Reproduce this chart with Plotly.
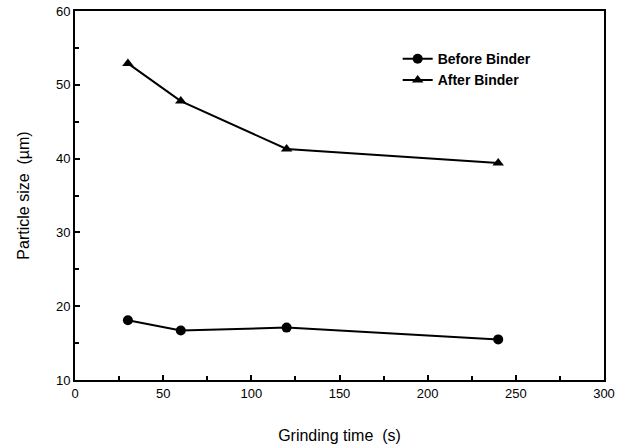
import plotly.graph_objects as go

time_s = [30, 60, 120, 240]
before_binder = [18.1, 16.7, 17.1, 15.5]
after_binder = [52.9, 47.8, 41.3, 39.4]

FONT = "Liberation Sans, Arial, sans-serif"

fig = go.Figure()
fig.add_trace(go.Scatter(
    x=time_s, y=before_binder, name="<b>Before Binder</b>",
    mode="lines+markers",
    line=dict(color="black", width=2),
    marker=dict(symbol="circle", size=10, color="black"),
))
fig.add_trace(go.Scatter(
    x=time_s, y=after_binder, name="<b>After Binder</b>",
    mode="lines+markers",
    line=dict(color="black", width=2),
    marker=dict(symbol="triangle-up", size=10, color="black"),
))

fig.update_layout(
    width=627, height=448,
    margin=dict(l=75, r=23, t=11, b=68),
    paper_bgcolor="white", plot_bgcolor="white",
    font=dict(family=FONT, size=13, color="black"),
    showlegend=True,
    legend=dict(
        x=0.61, y=0.913, xanchor="left", yanchor="top",
        bgcolor="rgba(0,0,0,0)", borderwidth=0,
        font=dict(family=FONT, size=14, color="black"),
        tracegroupgap=0, itemwidth=30,
    ),
    xaxis=dict(
        range=[0, 300], tickvals=[0, 50, 100, 150, 200, 250, 300],
        ticks="inside", ticklen=5, tickwidth=1.5, tickcolor="black",
        minor=dict(dtick=25, ticks="inside", ticklen=4, tickcolor="black"),
        showline=True, linecolor="black", linewidth=2, mirror=True,
        showgrid=False, zeroline=False, automargin=False,
        title=dict(text="Grinding time  (s)", font=dict(size=16), standoff=30),
        tickfont=dict(size=13),
    ),
    yaxis=dict(
        range=[10, 60], tickvals=[10, 20, 30, 40, 50, 60],
        ticks="inside", ticklen=5, tickwidth=1.5, tickcolor="black",
        minor=dict(dtick=5, ticks="inside", ticklen=4, tickcolor="black"),
        showline=True, linecolor="black", linewidth=2, mirror=True,
        showgrid=False, zeroline=False, automargin=False,
        title=dict(text="Particle size  (µm)", font=dict(size=16), standoff=22),
        tickfont=dict(size=13),
    ),
)

fig.write_html("out.html")
